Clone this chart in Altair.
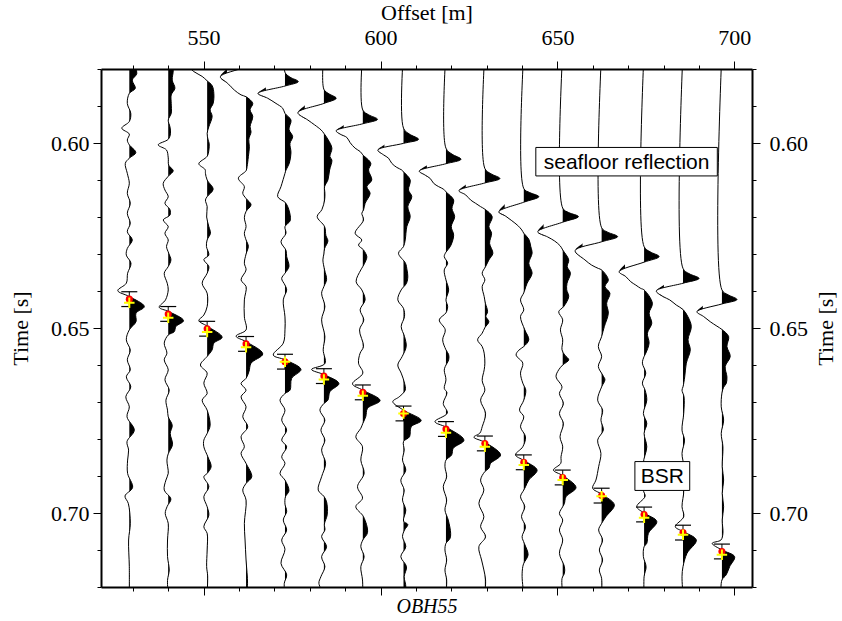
import altair as alt
import pandas as pd

# Receiver offsets of the displayed traces (m)
offsets = [529, 540, 551, 562, 573, 584, 595, 606.5, 618.5, 629.5,
           640.5, 651.5, 662.5, 674.5, 685.5, 696.5]

# Wiggle samples per trace: (two-way time in ms, amplitude)
trace_01 = [(575, 3), (578, 4), (581.2, 7.5), (583, 3), (585.2, 6), (586.6, 0), (589.3, -2), (592, 1.5),
            (594.2, 0), (596, -7.5), (597.6, 0), (599.2, -2), (600.5, 0), (602.6, 6.5), (604.1, 0),
            (605.5, -4), (608.2, -2), (610.9, 0), (613.6, -2), (616.3, 1), (619, -2), (621.7, 1),
            (624, -2), (626.2, 3), (628.5, -2), (630.3, -3), (632.5, 1.7), (635.2, -1.7), (637.9, -3),
            (639.9, -11.5), (641.5, 0), (644.2, 15), (646, 6.7), (648.3, 6.7), (650.5, 0), (653.2, -3),
            (656, 1), (658.6, -2), (661.3, 1), (663.2, -3), (665.9, 1.5), (668.6, -3.5), (671.3, 0),
            (674, -2.3), (677.6, 5), (680.7, -2.3), (683, -0.7), (685.7, -1.7), (689.3, -1.7),
            (693.1, 3.3), (695.4, -4.3), (697.4, -1), (702.8, 1), (707.3, -0.7), (714.5, 0), (722, 0)]
trace_02 = [(575, 2), (578, 3), (580.3, 5), (583, 4), (585.2, 6.7), (587, 3), (589.3, 3), (592, 3),
            (593.8, 0), (595.6, 1.7), (597.4, 2.3), (599, 0), (600.5, -10), (601.9, -1.7), (604, 0),
            (606, 0.5), (607.5, 5), (609, 0), (610.9, -5), (612.7, -3.3), (614.5, 0), (616.3, -3.3),
            (618, 1.7), (619.5, 1.7), (620.8, -5), (622.6, 0), (624.4, -3.3), (626.2, 0), (628, -1.7),
            (629.8, 0.5), (631.6, 2.7), (633.4, 0), (635.2, -4), (637.9, -1), (639.7, 0), (642.4, -2.7),
            (644.4, -9), (645.5, 0), (648, 15.3), (649.6, 7.7), (651, 6), (651.9, 0), (654.1, -4),
            (656.8, -1.3), (658.6, -4), (661.3, 0), (664, -3.3), (666.8, 1), (669.5, -2.3), (672.2, -0.7),
            (674, 0), (676.3, 4), (678.5, 2), (681.5, 4.3), (684, 0), (685.7, -1.3), (689.3, 0),
            (691.1, -2.3), (693.8, -4), (696.2, 2.7), (698.2, -1), (700.1, -3), (702.8, 0), (707.3, -0.7),
            (711.8, -0.7), (715.4, 1), (718.2, -0.7), (722, 0)]
trace_03 = [(572, 0), (573.5, 15), (575.5, 0), (577.2, -26), (579, -20), (580.7, -13.3), (582, -5),
            (583.2, 0), (584.5, 5), (586.6, 6.7), (589.3, 6), (591, 3), (592.8, 5), (595.6, 1.7),
            (597.4, 0), (599.2, 1), (600.1, 2), (602, 1.7), (603.6, 0), (605.6, -8.3), (607.2, -2),
            (608.2, -1.7), (610, 0), (612.5, 6), (614.5, 0), (615.4, -1.7), (617.2, 0), (620, -0.5),
            (622.6, 1.7), (624.4, 3.3), (626.2, 0), (628, -0.7), (630.3, 1.7), (631.5, -3.3), (633.4, 1.7),
            (635.2, 0), (637.9, -5), (640.6, 0), (644.2, 0), (646.5, -3.3), (648, -8.3), (649.5, 0),
            (652.5, 15), (654.1, 6.7), (655.9, 5), (657.7, 0), (660, -6.7), (662.2, 0), (664.9, -3.3),
            (667.7, 0), (669.5, -5), (672.2, 0), (676.3, 3), (678.5, 0), (680.3, -3.3), (682.1, -3.3),
            (684.8, 0.7), (687.5, 4), (689.3, 0), (690.2, -3.3), (692.9, 1.7), (695.6, -3.3), (698.3, 0),
            (700.6, 1.7), (703.7, -3.3), (705.5, 0), (710, 0), (714.5, -0.5), (717, 0.5), (722, 0)]
trace_04 = [(573, 0), (576.5, 15), (579.3, 0), (582.1, -25.7), (583.9, -18.3), (585.7, -11.7), (587, -5),
            (587.5, 0), (589.3, 6.7), (591, 4), (592.8, 6.7), (595.6, 4), (597, 5), (599, 2.7), (601, 3.3),
            (603.7, 2.3), (606.4, 1), (607.5, 0), (609.5, -7.7), (611.8, -1.7), (613.6, -3.3), (615, 0),
            (616.7, 5), (618.5, 0), (620.2, -1.7), (622.6, 0), (624.4, -1.7), (626.2, 0), (627.9, 2.3),
            (630, 0), (632.5, -1.7), (634.3, 0), (637, -5), (638.8, 0), (642.4, -1.7), (647, -1.7),
            (650.5, 0), (652.2, -10), (653.7, 0), (657, 16.7), (659.5, 5), (661.7, 3), (663.6, 0),
            (665, -5), (666.8, 0), (668.6, -5), (671.3, 0), (674, -3.3), (676.7, 1.7), (679.4, -5),
            (682.1, -1.7), (683.9, -5), (686.6, 0), (690.2, 5.7), (692, 0), (693.8, -3.3), (696.5, 0),
            (702.8, -1.7), (707.3, -1), (712.7, 0), (719.1, 1.5), (722, 0.5)]
trace_05 = [(575, 0), (580.9, 0), (582.2, 5), (583.4, 13.3), (584.6, 0), (586.6, -27), (587.9, -17.3),
            (589.3, -9), (590.6, -2.3), (592, 0), (593.8, 6), (596.3, 4), (598.3, 7.7), (600.1, 5),
            (602.6, 6), (605.5, 4.3), (607.3, 1), (608.2, 0), (611.8, -4), (614.5, -7.3), (616.3, 1),
            (619.7, 5.3), (621.1, 5), (622.6, 0), (624.4, 1), (626.7, -4), (629, 1), (630.7, 1.7),
            (633.4, 4), (635.2, 0), (636.6, -3.3), (638.4, 0), (639.7, 1.7), (642.4, -1.7), (647, 0),
            (650.5, 0), (654.1, -1.7), (657.3, -11.7), (658.6, 0), (661.2, 16), (663.6, 6.7), (666.8, 5),
            (667.7, 0), (669.5, -5), (672.2, 0), (674.9, -3.3), (677.6, 1.7), (680.3, -3.3), (682.1, 1.7),
            (684.8, -3.3), (686.6, 0), (689.3, -5), (691.1, 0), (694, 4), (695.6, 0.5), (697.6, 0),
            (699.6, 1.7), (701.9, -1.7), (704.6, 1.7), (707.3, -3.3), (709.8, 0), (713.6, -4),
            (716.7, 1.7), (719, -0.7), (722, 0)]
trace_06 = [(575, 0), (585.5, 0), (586.7, 5), (587.9, 12.3), (589.3, 0), (591.8, -26), (593.8, -16),
            (595.1, -9.3), (596.5, -2.7), (597.4, 0), (599, 4), (601.4, 8), (603.7, 6), (604.6, 8),
            (607.3, 5.7), (610, 4), (611.8, 0.7), (613.6, 1), (615.4, 0.7), (618, -2), (619.9, -6.7),
            (622.6, 0.7), (625, 2), (626.5, 4), (628.5, 0.7), (630, 0), (631.6, -1), (634.3, 0.7),
            (636.9, 2.7), (638.8, 0), (640.6, -2.3), (644.2, 1), (647.8, -2.3), (652.3, 1), (655.9, -0.7),
            (659.6, 1), (661.2, -12.3), (662.6, 0), (665, 15), (667.2, 6), (669.5, 4), (670.4, 0),
            (672.2, -4), (674.9, 1), (677.6, -3), (680.3, 1), (683, -2.3), (686.6, 1.7), (690.2, -2.3),
            (693.8, -5.7), (695.5, 0), (697, 2.7), (700.5, 3.3), (703, 0.5), (704.6, 1), (706.4, -2.3),
            (709.1, 2.7), (711.8, -2.3), (714.5, 1), (717.2, -3), (719, -5), (722, 0)]
trace_07 = [(575, 0), (591.1, 0), (592.4, 6), (593.6, 14.7), (594.8, 0), (596.7, -26.7), (597.6, -22.7),
            (598.5, -16), (599.9, -12.7), (601.4, -7.7), (602.3, -2.7), (603.2, 0), (605.5, 8),
            (607.3, 5.7), (610, 9), (611.8, 4), (613.6, 7.3), (616.3, 2.3), (618.1, 0.7), (619, -1),
            (620.8, 0.7), (624.4, -7.7), (626.2, -1), (627.6, -4.3), (628.9, 0.7), (630.7, 4), (631.6, 3.3),
            (633.4, 0), (634.3, -2), (637.5, -6.7), (639.7, -1), (642.4, 2.3), (645.1, -2.7), (647.8, 1),
            (650.5, -3.3), (655, 0.7), (656.8, -2.7), (659.5, -4.3), (662.2, 0), (665.1, -10.3),
            (666.8, 0), (669.6, 17.3), (671.7, 4.7), (673.9, 3), (675.8, 0), (677.1, -2), (679.4, -7),
            (682.1, -0.3), (685.7, -2), (689.3, 1.3), (692.9, -5.3), (696, -0.3), (698.3, -7), (701, 0.7),
            (705.3, 4.7), (707.3, 0), (709.1, -2), (711.8, 1.3), (714.5, -2), (718.1, -0.3), (722, 0)]
trace_08 = [(575, 0), (596, 0), (597.6, 6), (599, 15), (600.1, 0), (601.9, -25.7), (603.2, -20),
            (604.1, -15), (605.5, -11.7), (606.6, -6.7), (607.3, -1.7), (607.8, 0), (610, 6.7), (612.7, 5),
            (614.5, 8.3), (617.2, 4.3), (619.9, 6.7), (622.6, 3.3), (626.2, 1.7), (628, 0), (629.8, -5),
            (632.5, 2), (634.3, 3.5), (636.1, 4.3), (637.9, 3), (639.7, -2.3), (642.4, -5.7), (644.7, 0),
            (646.9, 1), (649.6, -2.3), (652.3, 1), (655, 2.7), (657.7, -1.3), (660, -5.7), (662.2, -2.3),
            (664.9, 1), (666.8, 1.7), (668.6, -4.3), (669.9, -10.7), (672.2, 0), (675, 17.7),
            (676.7, 7.7), (679.4, 6), (680.7, 0), (683, 0.7), (685.7, -1), (688.4, 2.3), (691.1, -2.7),
            (693.8, 0.7), (696.5, -1), (699.2, 2.3), (702.2, 0), (703.1, 4.3), (704.6, 1), (706.4, -1),
            (709.1, 2.3), (711.8, -2.7), (714.5, 3), (717.2, 0.7), (720, 2.3), (722, 0)]
trace_09 = [(575, 0), (601.4, 0), (603, 6), (604.4, 15), (605.6, 0), (607.6, -26.7), (608.7, -20.7),
            (609.6, -15.7), (610.9, -12.3), (611.8, -7.3), (612.5, -2.3), (613.2, 0), (615.4, 7.7),
            (617.7, 6), (619.9, 8.7), (622.6, 5.3), (624.9, 7.7), (628, 4.3), (629.5, 0), (630.7, -1.7),
            (632.5, 1.7), (634.3, -1.7), (637, 0), (639.7, 2.7), (642.4, 0), (644.2, 1.7), (645.9, 0),
            (647.8, -6.7), (650.5, -0.7), (653.2, -3.3), (655.9, 0), (657.2, 2.7), (658.6, 2.7),
            (660.4, -0.7), (661.4, -1.7), (664, 0), (666.3, -1.7), (667.5, 1), (670.4, -2.7), (673, 1.3),
            (675.3, -11), (676.8, 0), (680.3, 18), (682.5, 7.3), (684.3, 5.7), (685.7, 0), (687.5, -1),
            (690.2, 0.7), (692.9, -2.7), (696.5, 0.7), (699.2, -1), (701.9, 2.3), (705.5, 4.7), (706.9, 4),
            (708.2, 0), (710, -1), (712.7, 0.7), (715.4, -1), (718.1, 0.7), (722, 0)]
trace_10 = [(575, 0), (606.9, 0), (608.3, 6), (609.6, 15), (610.8, 0), (612.9, -26), (614, -19.3),
            (615.4, -14.3), (616.3, -9.3), (617.2, -4.3), (617.9, 0), (619.9, 7.3), (622.6, 4),
            (624.4, 6.7), (627.1, 4.7), (629.8, 8), (631.6, 4), (633.4, 0.7), (635.2, -2.7), (637, 0),
            (638.8, -2.7), (641.5, -0.7), (643.3, 0.5), (645.6, 2.7), (646.9, 1), (648.3, 4), (649.9, 0),
            (651.4, -2.7), (653.2, -7.3), (655, -2.7), (656.8, -0.7), (659.5, 0), (661.3, -0.7),
            (664.2, -2.7), (666.8, 0), (669.5, -4.3), (673.1, 0.7), (676.7, -2.7), (678.4, -5),
            (679.5, -11), (680.9, 0), (684.3, 15.7), (686.6, 5.7), (687.9, 4), (688.8, 0), (691.1, -4.3),
            (693.8, -1), (697.4, -6), (701, -1), (703.7, -4.3), (706.4, 0.7), (709.1, -6), (712.7, -3.3),
            (715.4, -1), (718.1, 0.7), (722, 0)]
trace_11 = [(575, 0), (612.3, 0), (613.4, 6), (614.5, 15), (616, 0), (618.6, -25), (619.8, -18),
            (621, -12), (622.3, -6), (623.5, -2), (624.4, 0), (626, 5), (628, 7), (629.8, 8.3),
            (632.5, 5), (635.2, 8.3), (637.9, 3.3), (639.7, 1), (640.5, 0), (642.4, -3.3), (645.1, 0),
            (646.9, -3.3), (650.5, 1), (653.2, 5), (655, 0), (656, -5), (657.3, -7.7), (659.5, -1),
            (662.2, -3.3), (664.9, -1), (666.8, 2), (669.5, 0), (672.2, -4.3), (674, 0), (676.7, -3.3),
            (679.4, 1.7), (682.1, -1), (684.3, -8.3), (685.8, 0), (688.4, 13.3), (691.1, 5), (692.9, 1.7),
            (693.8, 0), (695.6, -3.3), (698.3, 1), (701, -2.3), (703.7, 1.7), (706.4, -1.7), (708.2, 0.5),
            (711.3, 4.3), (713.6, 0), (714.5, -1), (717.2, -1.7), (722, 0)]
trace_12 = [(575, 0), (617.6, 0), (618.8, 6), (619.9, 15.7), (621.4, 0), (624, -25), (625.4, -15),
            (626.5, -8), (627.8, -2.5), (628.9, 0), (631.6, 6), (633.4, 4.5), (635.2, 7.7), (637.9, 4.3),
            (639.7, 4), (641.5, 6), (644.2, 1), (645.6, -4), (647.8, 0), (650.5, -2.3), (653.2, 0),
            (655.9, -0.7), (657.3, 2), (658.6, 6), (660, 0), (661.3, -4), (663.2, -6.7), (665.9, -0.7),
            (667.7, -3.3), (670.4, 0.7), (673.1, -3.3), (675.8, 0.7), (679.4, -2.7), (682.1, 0),
            (684.8, -1.7), (686.6, -2), (688.4, -9.3), (689.9, 0), (693.1, 13.3), (695.6, 3.3),
            (697.4, 1.7), (698.3, 0), (700.1, -3.3), (701.9, 0), (704.6, -3.3), (707.3, 0), (710.9, -3.3),
            (714.5, 1.7), (716.3, 1.7), (717.7, -0.7), (722, 0)]
trace_13 = [(575, 0), (622.9, 0), (624.1, 6), (625.3, 16), (626.7, 0), (629.1, -26.5), (631.6, -16.7),
            (633, -10), (633.9, -3.3), (634.3, 0), (637, 6.7), (638.8, 3.3), (640.6, 8.3), (643.3, 5),
            (646, 6.7), (649.6, 2.7), (652.3, 0), (655, -3.3), (657.7, 0), (660.4, -3.3), (662.7, 1),
            (664, 3.3), (665.9, 0), (669.5, -4), (672.2, 1), (674.9, -0.7), (677.6, 1.7), (680.3, -4),
            (683.9, -0.7), (687.5, -3), (691.1, -5.7), (693.3, -9), (694.9, 0), (697.8, 12.7), (701, 4.3),
            (702.8, 0), (704.6, -3), (707.3, 1), (710, -2.3), (712.7, 1), (715.4, -2.3), (717.7, 0),
            (722, 0)]
trace_14 = [(575, 0), (628, 0), (629.4, 6), (630.7, 15), (632.2, 0), (634.8, -25), (636.1, -18.3),
            (637.5, -13.3), (638.4, -8.3), (639.3, -3.3), (639.7, 0), (643.3, 8.3), (646, 5), (648.7, 7.7),
            (651.4, 3.3), (654.1, 5), (656.8, 1.7), (657.7, 0), (659.5, -1.7), (662.2, 1.7), (664.9, -1.7),
            (666.8, 1), (669.5, 2.7), (673.1, -0.7), (675.8, 2.7), (678.5, 0), (682.1, 2.7), (686.6, -0.7),
            (690.2, 2.7), (693.8, -0.7), (695.5, 1), (698.3, -7.3), (700, 0), (702.3, 12.7), (705.5, 4.3),
            (708.2, 2.7), (709.1, 0), (711.8, -0.7), (714.5, 2), (717.2, 0), (722, 0)]
trace_15 = [(575, 0), (633.9, 0), (635.3, 6), (636.6, 16), (637.9, 0), (640, -26.7), (641.5, -20),
            (642.4, -13.3), (643.8, -6.7), (645, 0), (647, 5), (649.6, 8.3), (653.2, 5), (655.9, 7.3),
            (659.5, 3.3), (663.2, 1.7), (665.9, 0), (666.8, -1), (668.6, 1), (673.1, 0.7), (677.6, -1),
            (680.3, 1.5), (683.9, -1), (687.5, 0.7), (691.1, -2), (693.8, 0.7), (698.3, -1), (701, 0.7),
            (703.7, -7.7), (705, 0), (707.3, 13.3), (710.9, 4), (714.5, 0), (717.2, -1), (722, 0)]
trace_16 = [(575, 0), (639.7, 0), (641, 6), (642.3, 15), (643.5, 0), (645.6, -25), (646.9, -18.3),
            (648.3, -11.7), (649.5, -5), (650.4, 0), (652.3, 6.7), (655, 5), (657.7, 8.3), (660.4, 3.3),
            (663.2, 5), (665, 4.3), (666, 1.7), (667.6, 0), (671.3, -0.7), (674.9, 1.7), (678.5, -0.7),
            (682.1, 1), (687.5, 0.3), (691.1, 1.7), (694.7, 0.3), (698.3, 1.7), (701.9, 0.3), (705.5, 1),
            (707.3, -1), (708.2, -9.7), (710, 0), (711.8, 12.7), (714.5, 7.7), (716.7, 4.3), (718.1, 0),
            (722, -1)]
traces = [trace_01, trace_02, trace_03, trace_04, trace_05, trace_06, trace_07, trace_08,
          trace_09, trace_10, trace_11, trace_12, trace_13, trace_14, trace_15, trace_16]

# BSR arrivals: picked times, modelled times and pick uncertainty (ms)
bsr_picked = [642.2, 646.2, 650.2, 654.3, 659.1, 663.0, 667.4, 673.1,
              677.3, 681.2, 686.3, 690.4, 695.3, 700.4, 705.3, 710.4]
bsr_model = [643.2, 647.2, 651.1, 655.2, 659.1, 663.9, 668.3, 673.1,
             678.3, 682.1, 687.0, 691.1, 695.5, 701.3, 705.9, 711.3]
pick_error = 2.0

# Annotation boxes: label, offset range (m), time range (s)
notes = ["seafloor reflection", "BSR"]
note_x = [(643.9, 695.2), (671.9, 687.4)]
note_t = [(0.6012, 0.6089), (0.6861, 0.6939)]

AMP_GAIN = 0.2826      # offset metres per amplitude unit
FILL_BACK = 5.0        # fill polygons close this far left of the zero line (m)
MASK = 5.4             # white strip left of each zero line (m), a bit wider than FILL_BACK

W, H = 651, 518
SERIF = "Liberation Serif"
SANS = "Liberation Sans"

rows = []
for k, (off, tr) in enumerate(zip(offsets, traces)):
    for t_ms, a in tr:
        rows.append({"trace": k, "off": off, "t": t_ms / 1000.0, "amp": a})
wig = pd.DataFrame(rows)

picks = pd.DataFrame({
    "trace": list(range(len(offsets))),
    "off": offsets,
    "tp": [v / 1000.0 for v in bsr_picked],
    "tm": [v / 1000.0 for v in bsr_model],
})
picks["tlo"] = picks["tp"] - pick_error / 1000.0
picks["thi"] = picks["tp"] + pick_error / 1000.0
caps = pd.concat([picks[["off", "tlo"]].rename(columns={"tlo": "tc"}),
                  picks[["off", "thi"]].rename(columns={"thi": "tc"})], ignore_index=True)

boxes = pd.DataFrame({
    "label": notes,
    "x1": [a for a, b in note_x], "x2": [b for a, b in note_x],
    "t1": [a for a, b in note_t], "t2": [b for a, b in note_t],
})
boxes["xc"] = (boxes["x1"] + boxes["x2"]) / 2
boxes["tc"] = (boxes["t1"] + boxes["t2"]) / 2

xs = alt.Scale(domain=[521, 705], nice=False, zero=False)
ys = alt.Scale(domain=[0.58, 0.72], reverse=True, nice=False, zero=False)

common = dict(grid=False, tickColor="black", tickWidth=1, zindex=1,
              labelFont=SERIF, labelColor="black", titleFont=SERIF,
              titleColor="black", titleFontWeight="normal")

ax_top = alt.Axis(orient="top", values=[550, 600, 650, 700], format="d", tickSize=8,
                  domain=True, domainWidth=2, domainColor="black", labelFontSize=22,
                  labelPadding=12, title="Offset [m]", titleFontSize=22, titlePadding=2, **common)
ax_top_minor = alt.Axis(orient="top", values=list(range(530, 705, 10)), tickSize=4,
                        labels=False, domain=False, title=None, **common)
ax_bottom = alt.Axis(orient="bottom", values=[550, 600, 650, 700], tickSize=8, labels=False,
                     domain=True, domainWidth=2, domainColor="black", title="OBH55",
                     titleFontSize=20, titleFontStyle="italic", titlePadding=1, **common)
ax_bottom_minor = alt.Axis(orient="bottom", values=list(range(530, 705, 10)), tickSize=4,
                           labels=False, domain=False, title=None, **common)
y_major = [0.60, 0.65, 0.70]
y_minor = [round(0.58 + 0.01 * i, 2) for i in range(15)]
ax_left = alt.Axis(orient="left", values=y_major, format=".2f", tickSize=8, domain=True,
                   domainWidth=2, domainColor="black", labelFontSize=22, labelPadding=4,
                   title="Time [s]", titleFontSize=22, titlePadding=18, **common)
ax_left_minor = alt.Axis(orient="left", values=y_minor, tickSize=4, labels=False,
                         domain=False, title=None, **common)
ax_right = alt.Axis(orient="right", values=y_major, format=".2f", tickSize=8, domain=True,
                    domainWidth=2, domainColor="black", labelFontSize=22, labelPadding=9,
                    title="Time [s]", titleFontSize=22, titlePadding=8, titleAngle=270,
                    titleBaseline="top", **common)
ax_right_minor = alt.Axis(orient="right", values=y_minor, tickSize=4, labels=False,
                          domain=False, title=None, **common)

base = alt.Chart(wig).transform_calculate(
    xw=f"datum.off + datum.amp * {AMP_GAIN}"
).transform_calculate(
    xm=f"min(datum.xw, datum.off - {FILL_BACK})"
)

# positive lobes filled black
fill = base.mark_area(orient="horizontal", interpolate="catmull-rom", color="black",
                      clip=True).encode(
    x=alt.X("xw:Q", scale=xs, axis=ax_top_minor),
    x2="xm:Q",
    y=alt.Y("t:Q", scale=ys, axis=ax_left_minor),
    detail="trace:N",
)

# white strips left of each zero line hide the negative side of the fill
mask = alt.Chart(picks).transform_calculate(
    m1=f"datum.off - {MASK}"
).mark_rect(color="white").encode(
    x=alt.X("m1:Q", scale=xs, axis=None),
    x2="off:Q",
    y=alt.value(0),
    y2=alt.value(H),
)

wiggle = base.mark_line(interpolate="catmull-rom", color="black", strokeWidth=1,
                        clip=True).encode(
    x=alt.X("xw:Q", scale=xs, axis=ax_top),
    y=alt.Y("t:Q", scale=ys, axis=ax_left),
    detail="trace:N",
    order="t:Q",
)

err = alt.Chart(picks).mark_rule(color="black", strokeWidth=1).encode(
    x=alt.X("off:Q", scale=xs, axis=None),
    y=alt.Y("tlo:Q", scale=ys, axis=None),
    y2="thi:Q",
)
cap = alt.Chart(caps).mark_point(shape="M-1,0L1,0", size=256, color="black", filled=False,
                                 strokeWidth=1.2, opacity=1).encode(
    x=alt.X("off:Q", scale=xs, axis=None),
    y=alt.Y("tc:Q", scale=ys, axis=None),
)
dot = alt.Chart(picks).mark_circle(size=50, color="#ff0000", opacity=1).encode(
    x=alt.X("off:Q", scale=xs, axis=ax_bottom),
    y=alt.Y("tp:Q", scale=ys, axis=ax_right),
)
cross = alt.Chart(picks).mark_point(shape="M-1,0L1,0M0,-1L0,1", size=110, color="#ffff00",
                                    filled=False, strokeWidth=2, opacity=1).encode(
    x=alt.X("off:Q", scale=xs, axis=ax_bottom_minor),
    y=alt.Y("tm:Q", scale=ys, axis=ax_right_minor),
)

box = alt.Chart(boxes).mark_rect(fill="white", stroke="black", strokeWidth=1).encode(
    x=alt.X("x1:Q", scale=xs, axis=None), x2="x2:Q",
    y=alt.Y("t1:Q", scale=ys, axis=None), y2="t2:Q",
)
label = alt.Chart(boxes).mark_text(font=SANS, fontSize=21, color="black", align="center",
                                   baseline="middle", dy=1).encode(
    x=alt.X("xc:Q", scale=xs, axis=None),
    y=alt.Y("tc:Q", scale=ys, axis=None),
    text="label:N",
)

chart = alt.layer(fill, mask, wiggle, err, cap, dot, cross, box, label).resolve_axis(
    x="independent", y="independent"
).properties(
    width=W, height=H,
    padding={"left": 101, "top": 69, "right": 90, "bottom": 34},
    autosize=alt.AutoSizeParams(type="none"),
).configure_view(stroke=None)

chart.save("out.html", embed_options={"renderer": "svg", "actions": False})
